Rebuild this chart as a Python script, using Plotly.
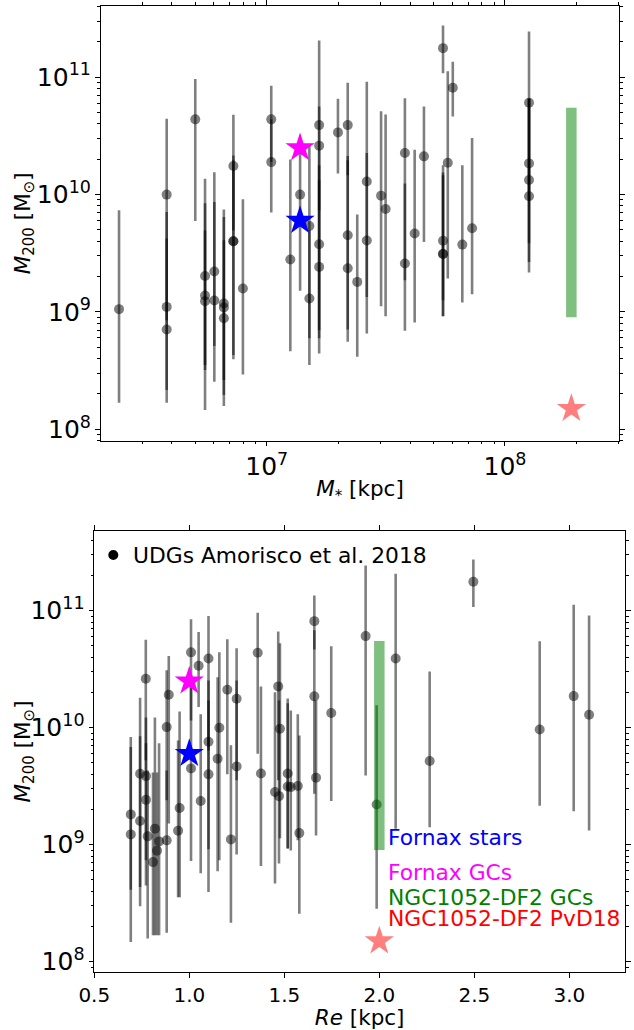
import numpy as np
import plotly.graph_objects as go

# ---------------- data ----------------
# Top panel: UDGs, log10 of stellar mass, log10 of M200 and of its lower / upper limits
top_log_mstar = [6.380, 6.580, 6.580, 6.580, 6.700, 6.741, 6.741, 6.741, 6.780, 6.780,
                 6.820, 6.820, 6.820, 6.860, 6.860, 6.860, 6.900, 7.019, 7.019, 7.099,
                 7.140, 7.179, 7.179, 7.220, 7.220, 7.220, 7.220, 7.299, 7.340, 7.340,
                 7.340, 7.380, 7.420, 7.420, 7.480, 7.499, 7.580, 7.580, 7.621, 7.660,
                 7.740, 7.740, 7.740, 7.740, 7.760, 7.781, 7.821, 7.862, 8.101, 8.101,
                 8.101, 8.101]
top_log_m200 = [9.024, 10.000, 9.043, 8.851, 10.641, 9.307, 9.140, 9.092, 9.345, 9.098,
                9.072, 9.038, 8.947, 10.243, 9.603, 9.603, 9.200, 10.641, 10.277, 9.447,
                10.000, 9.733, 9.115, 10.592, 10.417, 9.577, 9.384, 10.530, 10.592, 9.654,
                9.373, 9.256, 10.111, 9.609, 9.991, 9.877, 10.354, 9.413, 9.668, 10.326,
                11.248, 9.607, 9.494, 9.494, 10.272, 10.911, 9.574, 9.713, 10.783, 10.266,
                10.124, 9.986]
top_log_lo = [8.226, 8.930, 8.226, 8.334, 9.775, 8.547, 8.164, 8.506, 8.709, 8.405,
              8.420, 8.198, 8.292, 9.696, 8.634, 8.596, 8.468, 10.277, 9.847, 8.666,
              9.180, 8.777, 8.547, 9.866, 8.845, 8.647, 8.777, 10.179, 10.164, 8.851,
              8.746, 8.618, 9.128, 8.817, 9.049, 8.964, 9.271, 8.839, 8.911, 9.597,
              11.035, 9.100, 8.964, 8.964, 9.285, 10.666, 9.081, 9.151, 9.952, 9.586,
              9.426, 9.336]
top_log_hi = [9.866, 10.647, 9.852, 9.626, 10.984, 10.136, 9.926, 9.695, 10.190, 9.937,
              9.872, 9.809, 9.611, 10.681, 10.334, 10.293, 9.960, 10.928, 10.641, 10.298,
              10.462, 10.434, 9.697, 11.313, 10.751, 10.249, 10.122, 10.817, 10.953, 10.329,
              10.292, 9.830, 10.962, 10.354, 10.711, 10.683, 10.822, 10.094, 10.383, 10.751,
              11.441, 10.249, 10.189, 10.164, 11.052, 11.132, 10.249, 10.482, 11.390, 10.817,
              10.817, 10.817]

# Bottom panel: UDGs, effective radius [kpc], log10 M200 and limits
bot_re = [0.692, 0.692, 0.741, 0.741, 0.771, 0.772, 0.772, 0.781, 0.819, 0.841,
          0.830, 0.809, 0.892, 0.881, 0.881, 0.949, 0.941, 1.009, 1.009, 1.049,
          1.060, 1.101, 1.101, 1.101, 1.158, 1.149, 1.200, 1.219, 1.249, 1.249,
          1.360, 1.377, 1.468, 1.477, 1.451, 1.472, 1.518, 1.518, 1.534, 1.571,
          1.579, 1.658, 1.658, 1.667, 1.747, 1.928, 1.986, 2.086, 2.265, 2.495,
          2.844, 3.023, 3.104]
bot_log_m200 = [9.259, 9.088, 9.607, 9.203, 10.419, 9.586, 9.383, 9.071, 9.137, 9.028,
                8.949, 8.851, 10.282, 10.005, 9.037, 9.313, 9.120, 10.644, 9.652, 10.530,
                9.374, 10.592, 9.880, 9.601, 10.000, 9.735, 10.325, 9.045, 10.248, 9.669,
                10.641, 9.609, 10.353, 9.991, 9.450, 9.415, 9.609, 9.498, 9.492, 9.501,
                9.099, 10.911, 10.268, 9.573, 10.125, 10.783, 9.344, 10.592, 9.715, 11.248,
                9.985, 10.270, 10.111]
bot_log_lo = [8.168, 8.615, 8.473, 8.638, 9.721, 8.652, 8.866, 8.197, 8.225, 8.225,
              8.225, 8.225, 9.182, 9.379, 8.248, 8.550, 8.550, 10.062, 8.860, 10.176,
              8.755, 9.806, 8.960, 8.595, 8.866, 8.772, 9.601, 8.333, 9.550, 8.915,
              9.778, 8.817, 9.550, 9.054, 8.669, 8.840, 8.968, 8.968, 8.951, 9.037,
              8.410, 10.669, 9.436, 9.079, 9.373, 9.592, 8.453, 9.137, 9.150, 11.031,
              9.333, 9.285, 9.122]
bot_log_hi = [9.920, 9.834, 10.256, 9.926, 10.752, 10.088, 9.866, 9.635, 10.088, 9.866,
              9.618, 9.618, 10.612, 10.490, 9.635, 10.139, 9.891, 10.926, 10.404, 10.817,
              10.114, 10.954, 10.404, 10.233, 10.646, 10.432, 10.755, 9.849, 10.680, 10.404,
              10.983, 10.353, 10.823, 10.721, 10.302, 10.233, 10.250, 10.208, 10.148, 10.114,
              9.934, 11.131, 10.832, 10.233, 10.697, 11.387, 10.191, 11.316, 10.481, 11.438,
              10.740, 11.051, 10.960]

# Reference objects
fornax_mstar = 1.38e7
fornax_re = 1.0
fornax_stars_m200 = 6.0e9
fornax_gcs_m200 = 2.5e10
df2_mstar = 1.9e8
df2_re = 2.0
df2_gcs_m200_range = [9.0e8, 5.5e10]
df2_pvd18_m200 = 1.5e8

legend_labels = ["Fornax stars", "Fornax GCs", "NGC1052-DF2 GCs", "NGC1052-DF2 PvD18"]
legend_colors = ["blue", "magenta", "green", "red"]
udg_label = "UDGs Amorisco et al. 2018"

# ---------------- figure ----------------
W, H = 634, 1030
FONT = "DejaVu Sans"
GREY = "rgba(0,0,0,0.5)"

fig = go.Figure()


def udg_trace(x, logm, loglo, loghi, xa, ya):
    y = 10 ** np.array(logm)
    lo = 10 ** np.array(loglo)
    hi = 10 ** np.array(loghi)
    return go.Scatter(
        x=x, y=y, mode="markers", xaxis=xa, yaxis=ya, showlegend=False,
        marker=dict(size=10, color=GREY, line=dict(width=0)),
        error_y=dict(type="data", symmetric=False, array=hi - y, arrayminus=y - lo,
                     color=GREY, thickness=2.6, width=0),
        hoverinfo="skip")


fig.add_trace(udg_trace(10 ** np.array(top_log_mstar), top_log_m200, top_log_lo, top_log_hi, "x", "y"))
fig.add_trace(udg_trace(bot_re, bot_log_m200, bot_log_lo, bot_log_hi, "x2", "y2"))

for xa, ya, xs_f, xs_df2 in [("x", "y", fornax_mstar, df2_mstar), ("x2", "y2", fornax_re, df2_re)]:
    # DF2 GC range (thick translucent green bar)
    fig.add_trace(go.Scatter(x=[xs_df2, xs_df2], y=df2_gcs_m200_range, mode="lines",
                             xaxis=xa, yaxis=ya, showlegend=False,
                             line=dict(color="rgba(0,128,0,0.5)", width=10.5)))
    # Fornax stars & GCs
    fig.add_trace(go.Scatter(x=[xs_f], y=[fornax_stars_m200], mode="markers", xaxis=xa, yaxis=ya,
                             showlegend=False,
                             marker=dict(symbol="star", size=22, color="blue", line=dict(width=0))))
    fig.add_trace(go.Scatter(x=[xs_f], y=[fornax_gcs_m200], mode="markers", xaxis=xa, yaxis=ya,
                             showlegend=False,
                             marker=dict(symbol="star", size=22, color="magenta", line=dict(width=0))))
    # DF2 PvD18
    fig.add_trace(go.Scatter(x=[xs_df2], y=[df2_pvd18_m200], mode="markers", xaxis=xa, yaxis=ya,
                             showlegend=False,
                             marker=dict(symbol="star", size=22, color="rgba(255,0,0,0.5)",
                                         line=dict(width=0))))

common = dict(showline=True, linecolor="black", linewidth=1.1, mirror="ticks",
              ticks="outside", ticklen=4.7, tickwidth=1, tickcolor="black",
              showgrid=False, zeroline=False, automargin=False,
              tickfont=dict(family=FONT, size=20, color="black"))
minor_log = dict(ticks="outside", ticklen=2.7, tickwidth=0.8, tickcolor="black", dtick="D1",
                 showgrid=False)
title_font = dict(family=FONT, size=21.5, color="black")

ytitle = "<i>M</i><sub>200</sub> [M<sub>⊙</sub>]"

top_y_dom = [1 - 440.7 / H, 1 - 6 / H]
bot_y_dom = [1 - 972.3 / H, 1 - 530.7 / H]

fig.update_layout(
    width=W, height=H, margin=dict(l=0, r=0, t=0, b=0, autoexpand=False),
    paper_bgcolor="white", plot_bgcolor="white",
    font=dict(family=FONT, color="black"),
    showlegend=False,
    xaxis=dict(common, type="log", range=[6.303, 8.480], dtick=1, exponentformat="power",
               showexponent="all", minor=minor_log,
               domain=[100.7 / W, 619.3 / W], anchor="y",
               title=dict(text="<i>M</i><sub>*</sub> [kpc]", font=title_font, standoff=0)),
    yaxis=dict(common, type="log", range=[7.903, 11.607], dtick=1, exponentformat="power",
               showexponent="all", minor=minor_log,
               domain=top_y_dom, anchor="x"),
    xaxis2=dict(common, type="linear", range=[0.5, 3.293], tick0=0.5, dtick=0.5,
                tickformat=".1f",
                domain=[94.3 / W, 625 / W], anchor="y2",
                title=dict(text="<i>Re</i> [kpc]", font=title_font, standoff=3)),
    yaxis2=dict(common, type="log", range=[7.909, 11.684], dtick=1, exponentformat="power",
                showexponent="all", minor=minor_log,
                domain=bot_y_dom, anchor="x2"),
)

# y-axis titles (placed as rotated annotations)
for dom in (top_y_dom, bot_y_dom):
    fig.add_annotation(text=ytitle, xref="paper", yref="paper", x=24 / W,
                       y=(dom[0] + dom[1]) / 2, textangle=-90, showarrow=False,
                       xanchor="center", yanchor="middle", font=title_font)

# Legend of the bottom panel (marker + text)
fig.add_shape(type="circle", xref="paper", yref="paper",
              x0=108.3 / W, x1=118.3 / W, y0=1 - 560 / H, y1=1 - 550 / H,
              fillcolor="black", line=dict(width=0))
fig.add_annotation(text=udg_label, xref="paper", yref="paper", x=131 / W, y=1 - 555 / H,
                   xanchor="left", yanchor="middle", showarrow=False,
                   font=dict(family=FONT, size=21.8, color="black"))

label_y = [837.3, 872.3, 897.7, 918.3]
for txt, col, yy in zip(legend_labels, legend_colors, label_y):
    fig.add_annotation(text=txt, xref="paper", yref="paper", x=386 / W, y=1 - yy / H,
                       xanchor="left", yanchor="middle", showarrow=False,
                       font=dict(family=FONT, size=21.8, color=col))

fig.write_html("out.html", config={"displayModeBar": False},
               post_script="document.body.style.margin='0px';document.body.style.padding='0px';")
